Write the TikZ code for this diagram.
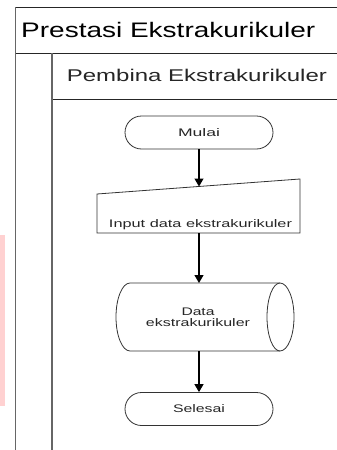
\documentclass[tikz,border=0pt]{standalone}
\usepackage{fontspec}
\setmainfont{Liberation Sans}
\usetikzlibrary{shapes.misc,arrows.meta}
\newcommand\wt[2]{\resizebox{#1}{\height}{#2}}
\begin{document}
\begin{tikzpicture}[x=1pt,y=-1pt,
  lane/.style={draw=black!60, line width=1.5pt},
  sep/.style={draw=black!85, line width=0.8pt},
  term/.style={draw=black!80, line width=0.8pt, rounded rectangle, minimum width=148pt, minimum height=33pt, inner sep=0pt, font=\fontsize{11}{12}\selectfont, text=black!85},
  shapeline/.style={draw=black!80, line width=0.8pt},
  lbl/.style={font=\fontsize{11}{11.3}\selectfont, text=black!85, inner sep=0pt},
  flow/.style={draw=black, line width=1.2pt, -{Triangle[width=9pt,length=8pt]}}]
\useasboundingbox (0,0) rectangle (337,450);
\fill[red!18] (0,235) rectangle (5,406);
% swimlanes
\draw[sep] (15.5,7) -- (337,7);
\draw[sep] (15.5,53) -- (337,53);
\draw[sep] (52,99) -- (337,99);
\draw[lane] (15.5,7) -- (15.5,450);
\draw[lane] (52,53) -- (52,450);
\node[anchor=base west, inner sep=0pt, font=\fontsize{21}{24}\selectfont] (title) at (21,37) {\wt{294pt}{Prestasi Ekstrakurikuler}};
\node[anchor=base west, inner sep=0pt, font=\fontsize{17}{20}\selectfont, text=black!85] (lane) at (66.7,81.7) {\wt{260pt}{Pembina Ekstrakurikuler}};
% start
\node[term] (mulai) at (199,132.5) {\wt{42pt}{Mulai}};
% manual input
\draw[shapeline] (97,194) -- (300,179) -- (300,233) -- (97,233) -- cycle;
\coordinate (intop) at (199,186.5);
\coordinate (inbot) at (199,233);
\node[lbl, anchor=base] (inp) at (200.5,227) {\wt{183pt}{Input data ekstrakurikuler}};
% stored data
\draw[shapeline] (130,283) -- (280,283) arc[start angle=90, end angle=-90, x radius=14pt, y radius=34pt] -- (130,351) arc[start angle=270, end angle=90, x radius=14pt, y radius=34pt] -- cycle;
\draw[shapeline] (280,283) arc[start angle=90, end angle=270, x radius=13pt, y radius=34pt];
\coordinate (dtop) at (199,283);
\coordinate (dbot) at (199,351);
\node[lbl, align=center] (data) at (198,317) {\wt{33pt}{Data}\\\wt{104pt}{ekstrakurikuler}};
% end
\node[term] (selesai) at (199,409) {\wt{52pt}{Selesai}};
% connectors
\draw[flow] (mulai.south) -- (intop);
\draw[flow] (inbot) -- (dtop);
\draw[flow] (dbot) -- (selesai.north);
\end{tikzpicture}
\end{document}
